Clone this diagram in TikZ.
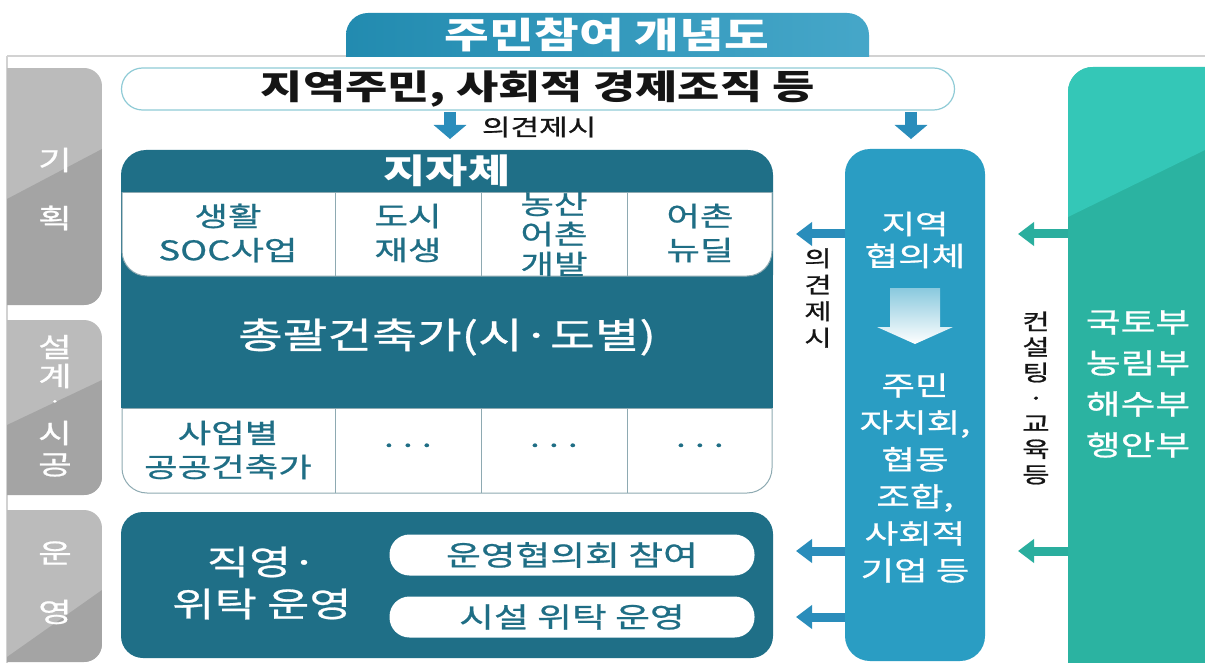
\documentclass[tikz,border=0pt]{standalone}
\usepackage{fontspec}
\usetikzlibrary{arrows.meta,calc}
\newfontfamily\kr[FakeStretch=1.35, FakeBold=0.8]{Noto Sans CJK KR}
\newfontfamily\krb[FakeStretch=1.35]{Noto Sans CJK KR}
\newcommand\kf[2]{\kr\fontsize{#1}{#2}\selectfont}
\newcommand\kfb[2]{\krb\bfseries\fontsize{#1}{#2}\selectfont}
\definecolor{dteal}{HTML}{1F6F87}
\definecolor{bcol}{HTML}{2A9DC3}
\definecolor{tcolA}{HTML}{2BB3A1}
\definecolor{tcolB}{HTML}{34C7B7}
\definecolor{grayA}{HTML}{A4A4A4}
\definecolor{grayB}{HTML}{BBBBBB}
\definecolor{barrow}{HTML}{2A8DBB}
\definecolor{tarrowc}{HTML}{2AAE9E}
\definecolor{celltxt}{HTML}{1F6E85}
\definecolor{titleblue}{HTML}{2597BF}
\definecolor{pillborder}{HTML}{8FCBD6}
\definecolor{cellline}{HTML}{8EAAB2}
\definecolor{framegray}{HTML}{D2D2D2}
\definecolor{txtblack}{HTML}{151515}
\begin{document}
\begin{tikzpicture}[x=1pt,y=-1pt,
  every node/.style={inner sep=0pt,outer sep=0pt},
  celltext/.style={font=\kf{27}{34}, text=celltxt, align=center},
  whitetext/.style={text=white, align=center},
  pill/.style={fill=white, rounded corners=20pt, minimum width=365pt, minimum height=41pt, font=\kf{28}{34}, text=celltxt},
  darr/.style={draw=barrow, line width=12pt, -{Triangle[width=32pt,length=14pt]}},
  larr/.style={draw=barrow, line width=9pt, -{Triangle[width=23pt,length=16pt]}},
  tarr/.style={draw=tarrowc, line width=9pt, -{Triangle[width=23pt,length=16pt]}},
  tabtext/.style={text=white, font=\kf{27}{30}}
]
\useasboundingbox (0,0) rectangle (1205,663);
\fill[white] (0,0) rectangle (1205,663);

% frame lines
\draw[framegray, line width=1.2pt] (7,56) -- (1205,56);
\draw[framegray, line width=1.2pt] (7,56) -- (7,663);

% title tab
\begin{scope}
\clip (330,0) rectangle (880,56.5);
\shade[left color=titleblue!92!black, right color=titleblue!85!white, rounded corners=22pt] (346,13) rectangle (869,100);
\end{scope}
\node[font=\kfb{36}{42}, text=white] (title) at (607,35) {주민참여 개념도};

% gray stage tabs
\foreach \t/\b/\dl/\dr in {68/305/199/149, 320/495/425/380, 510/662/657/590}{
  \begin{scope}
  \clip[rounded corners=18pt] (-40,\t) rectangle (102,\b);
  \fill[grayB] (7,\t) rectangle (102,\b);
  \fill[grayA] (7,\dl) -- (102,\dr) -- (102,\b) -- (7,\b) -- cycle;
  \end{scope}
}
\node[tabtext] (g1) at (55,160) {기};
\node[tabtext] (g2) at (55,218) {획};
\node[tabtext] (g3) at (55,347) {설};
\node[tabtext] (g4) at (55,376) {계};
\node[tabtext, font=\kf{18}{20}] (g5) at (55,404) {·};
\node[tabtext] (g6) at (55,433) {시};
\node[tabtext] (g7) at (55,465) {공};
\node[tabtext] (g8) at (55,553) {운};
\node[tabtext] (g9) at (55,612) {영};

% top pill
\node[draw=pillborder, fill=white, line width=1.2pt, rounded corners=21pt,
      minimum width=833pt, minimum height=42pt, font=\kfb{34}{40}, text=txtblack]
      (top) at (538,89) {지역주민, 사회적 경제조직 등};

% down arrows
\coordinate (d1) at (450,139);
\coordinate (d2) at (911,139);
\draw[darr, shorten <=2pt] (top.south -| d1) -- (d1);
\draw[darr, shorten <=2pt] (top.south -| d2) -- (d2);
\node[anchor=west, font=\kf{23}{28}, text=txtblack] (op1) at (482,127) {의견제시};

% jijache box
\fill[dteal, rounded corners=25pt] (121,150) rectangle (773,300);
\fill[dteal] (121,200) rectangle (773,408);
\node[font=\kfb{34}{40}, whitetext] (jj) at (447,171) {지자체};

% row 1 cells
\begin{scope}
\clip (118,193) rectangle (777,279);
\fill[white, draw=cellline, line width=1pt, rounded corners=25pt] (122,150) rectangle (772,276);
\draw[cellline, line width=1pt] (122,193) -- (772,193);
\foreach \x in {335,481,627} \draw[cellline, line width=1pt] (\x,193) -- (\x,276);
\node[celltext] (c1) at (228,233) {생활\\SOC사업};
\node[celltext] (c2) at (408,233) {도시\\재생};
\node[celltext, font=\kf{27}{30}] (c3) at (554,234) {농산\\어촌\\개발};
\node[celltext] (c4) at (700,233) {어촌\\뉴딜};
\end{scope}

\node[font=\kf{36}{42}, whitetext] (chief) at (447,337) {총괄건축가(시·도별)};

% row 2 cells
\begin{scope}
\clip (118,408) rectangle (777,497);
\fill[white, draw=cellline, line width=1pt, rounded corners=25pt] (122,370) rectangle (772,493);
\draw[cellline, line width=1pt] (122,408) -- (772,408);
\foreach \x in {335,481,627} \draw[cellline, line width=1pt] (\x,408) -- (\x,493);
\end{scope}
\node[celltext] (r1) at (228,450) {사업별\\공공건축가};
\node[celltext, font=\kf{25}{28}] (r2) at (408,449) {···};
\node[celltext, font=\kf{25}{28}] (r3) at (554,449) {···};
\node[celltext, font=\kf{25}{28}] (r4) at (700,449) {···};

% operation box
\node[fill=dteal, rounded corners=22pt, minimum width=652pt, minimum height=146pt] (ops) at (447,585) {};
\node[font=\kf{34}{42}, whitetext] (opt) at (262,583) {직영·\\위탁 운영};
\node[pill] (p1) at (572,555) {운영협의회 참여};
\node[pill] (p2) at (572,617) {시설 위탁 운영};

% blue column
\node[fill=bcol, rounded corners=25pt, minimum width=140pt, minimum height=512pt] (blue) at (915,405) {};
\node[font=\kf{27}{32}, whitetext] (b1) at (915,240) {지역\\협의체};
\shade[top color=bcol!55!white, bottom color=white]
  (890,288) -- (940,288) -- (940,327) -- (953,327) -- (915,344) -- (877,327) -- (890,327) -- cycle;
\node[font=\kf{27}{37}, whitetext] (b2) at (915,478) {주민\\자치회,\\협동\\조합,\\사회적\\기업 등};

% left arrows from blue column
\coordinate (ba1) at (796,234);
\coordinate (ba2) at (796,551);
\coordinate (ba3) at (796,617);
\draw[larr] (blue.west |- ba1) -- (ba1);
\draw[larr] (blue.west |- ba2) -- (ba2);
\draw[larr] (blue.west |- ba3) -- (ba3);
\node[font=\kf{22}{26.5}, text=txtblack, align=center] (op2) at (818,298) {의\\견\\제\\시};

% teal column
\begin{scope}
\clip[rounded corners=25pt] (1068,67) rectangle (1280,740);
\fill[tcolA] (1068,67) rectangle (1205,663);
\fill[tcolB] (1068,67) -- (1205,67) -- (1205,150) -- (1068,217) -- cycle;
\end{scope}
\coordinate (tcol) at (1068,400);
\node[font=\kf{28}{41}, whitetext] (m1) at (1138,384) {국토부\\농림부\\해수부\\행안부};

\coordinate (ta1) at (1018,234);
\coordinate (ta2) at (1018,551);
\draw[tarr] (tcol |- ta1) -- (ta1);
\draw[tarr] (tcol |- ta2) -- (ta2);
\node[font=\kf{22}{25.5}, text=txtblack, align=center] (cons) at (1036,398) {컨\\설\\팅\\·\\교\\육\\등};
\end{tikzpicture}
\end{document}
